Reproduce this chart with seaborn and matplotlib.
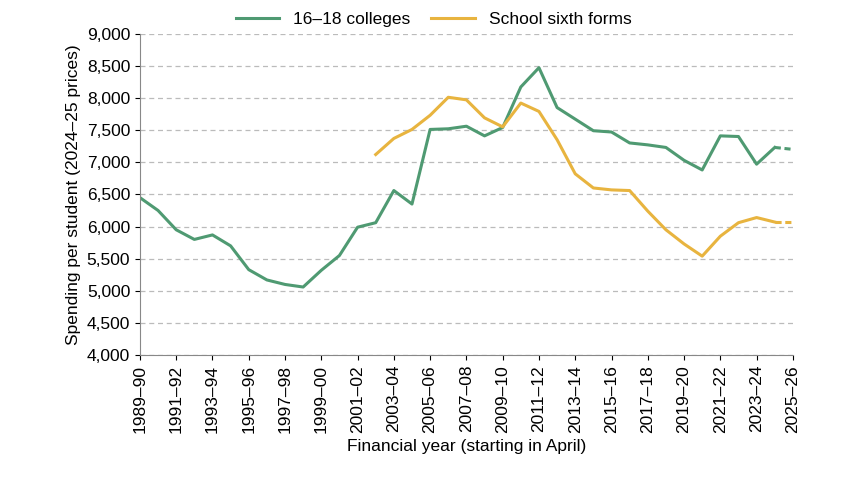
import matplotlib
matplotlib.use("Agg")
import matplotlib.pyplot as plt
import seaborn as sns
import pandas as pd
import numpy as np

start_years = list(range(1989, 2026))
labels = [f"{y}–{str(y+1)[-2:]}" for y in start_years]
colleges = [6450,6250,5950,5800,5870,5700,5330,5170,5100,5060,5320,5550,5990,6060,6560,6350,
            7510,7520,7560,7410,7540,8170,8470,7850,7670,7490,7470,7300,7270,7230,7030,6880,
            7410,7400,6970,7230,7200]
sixth = [np.nan]*13 + [7120,7370,7510,7730,8010,7970,7690,7550,7920,7790,7350,6820,6600,6570,
         6560,6240,5950,5730,5540,5850,6060,6140,6070,6070]

plt.rcParams["font.family"] = "Liberation Sans"
fs = 12.5
fig, ax = plt.subplots(figsize=(8.48, 4.8), dpi=100)
x = np.arange(len(labels))
green, yellow = "#4f9a72", "#e8b43f"
for vals, col, name in [(colleges, green, "16–18 colleges"), (sixth, yellow, "School sixth forms")]:
    df = pd.DataFrame({"x": x[:-1], "y": vals[:-1]})
    sns.lineplot(data=df, x="x", y="y", ax=ax, color=col, lw=2.2, label=name)
    df2 = pd.DataFrame({"x": x[-2:], "y": vals[-2:]})
    sns.lineplot(data=df2, x="x", y="y", ax=ax, color=col, lw=2.2, ls=(0, (2, 1.2)), legend=False)

ax.set_ylim(4000, 9000)
ax.set_yticks(range(4000, 9001, 500))
ax.set_yticklabels([f"{v:,}" for v in range(4000, 9001, 500)], fontsize=fs)
ax.set_xlim(0, len(labels) - 1)
ax.set_xticks(x[::2])
ax.set_xticklabels(labels[::2], rotation=90, fontsize=fs)
ax.grid(axis="y", ls=(0, (4, 3)), color="#bbbbbb", lw=0.9)
ax.set_axisbelow(True)
for s in ["top", "right"]:
    ax.spines[s].set_visible(False)
ax.spines["left"].set_color("#888888")
ax.spines["bottom"].set_color("#888888")
ax.set_xlabel("Financial year (starting in April)", fontsize=fs)
ax.set_ylabel("Spending per student (2024–25 prices)", fontsize=fs)
ax.legend(loc="lower center", bbox_to_anchor=(0.45, 1.0), ncol=2, frameon=False, fontsize=fs,
          borderaxespad=0, handlelength=2.5, columnspacing=1.2)
fig.subplots_adjust(left=0.165, right=0.935, top=0.93, bottom=0.26)
fig.savefig("out.png")
